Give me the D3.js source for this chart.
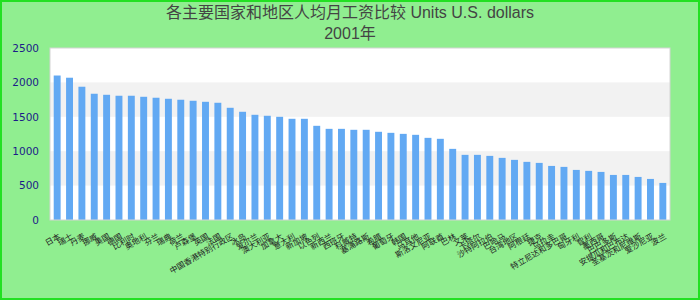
<!DOCTYPE html>
<html>
<head>
<meta charset="utf-8">
<script src="https://cdn.jsdelivr.net/npm/d3@7"></script>
<style>
  body { margin: 0; }
  svg { display: block; }
</style>
</head>
<body>
<div class="chart"></div>
<script>
const titleLine1 = "各主要国家和地区人均月工资比较 Units U.S. dollars";
const titleLine2 = "2001年";

const countries = [
  "日本", "瑞士", "丹麦", "挪威", "美国", "德国", "比利时", "奥地利", "芬兰", "瑞典",
  "荷兰", "卢森堡", "英国", "法国", "中国香港特别行政区", "冰岛", "爱尔兰", "澳大利亚", "加拿大", "意大利",
  "新加坡", "以色列", "新西兰", "西班牙", "科威特", "塞浦路斯", "希腊", "葡萄牙", "韩国", "马耳他",
  "斯洛文尼亚", "阿联酋", "巴林", "文莱", "卡塔尔", "沙特阿拉伯", "巴哈马", "台湾地区", "阿根廷", "捷克",
  "乌拉圭", "特立尼达和多巴哥", "匈牙利", "智利", "墨西哥", "巴巴多斯", "安提瓜和巴布达", "圣基茨和尼维斯", "爱沙尼亚", "波兰"
];

const values = [
  2100, 2068, 1937, 1835, 1820, 1806, 1806, 1791, 1777, 1762,
  1748, 1733, 1718, 1704, 1631, 1573, 1529, 1515, 1500, 1471,
  1471, 1369, 1325, 1325, 1311, 1311, 1282, 1267, 1252, 1238,
  1194, 1180, 1034, 947, 947, 932, 903, 874, 845, 830,
  786, 772, 728, 714, 699, 655, 655, 626, 597, 539
];

const yTicks = [0, 500, 1000, 1500, 2000, 2500];

const data = countries.map((c, i) => ({ country: c, value: values[i] }));

const W = 700, H = 300;
const margin = { top: 48, right: 30, bottom: 80, left: 50 };
const width = W - margin.left - margin.right;
const height = H - margin.top - margin.bottom;

const root = d3.select(".chart").append("svg")
  .attr("width", W)
  .attr("height", H);

// background + frame
root.append("rect")
  .attr("x", 1).attr("y", 1)
  .attr("width", W - 2).attr("height", H - 2)
  .attr("fill", "#90ee90")
  .attr("stroke", "#22e022")
  .attr("stroke-width", 2);

// title
root.append("text")
  .attr("x", W / 2).attr("y", 18)
  .attr("text-anchor", "middle")
  .attr("font-family", "'Liberation Sans', 'Noto Sans CJK SC', sans-serif")
  .attr("font-size", 16)
  .attr("fill", "#444")
  .text(titleLine1);

root.append("text")
  .attr("x", W / 2).attr("y", 39)
  .attr("text-anchor", "middle")
  .attr("font-family", "'Liberation Sans', 'Noto Sans CJK SC', sans-serif")
  .attr("font-size", 16)
  .attr("fill", "#444")
  .text(titleLine2);

const svg = root.append("g")
  .attr("transform", "translate(" + margin.left + "," + margin.top + ")");

let x = d3.scaleBand()
  .domain(countries)
  .range([0, width])
  .paddingInner(0.44)
  .paddingOuter(0.3);

let y = d3.scaleLinear().domain([0, 2500]).range([height, 0]);

// plot area with alternating bands
svg.append("rect")
  .attr("width", width).attr("height", height)
  .attr("fill", "#fff");

svg.selectAll(".band")
  .data([500, 1500])
  .enter()
  .append("rect")
  .attr("class", "band")
  .attr("x", 0)
  .attr("y", d => y(d + 500))
  .attr("width", width)
  .attr("height", d => y(d) - y(d + 500))
  .attr("fill", "#f2f2f2");

svg.selectAll(".bar")
  .data(data)
  .enter()
  .append("rect")
  .attr("class", "bar")
  .attr("x", d => x(d.country))
  .attr("y", d => y(d.value))
  .attr("width", x.bandwidth())
  .attr("height", d => height - y(d.value))
  .attr("fill", "#62a9f3");

svg.append("rect")
  .attr("width", width).attr("height", height)
  .attr("fill", "none")
  .attr("stroke", "#d4d4d4")
  .attr("stroke-width", 1);

// y axis
const yAxis = d3.axisLeft(y)
  .tickValues(yTicks)
  .tickFormat(d3.format("d"))
  .tickSize(0)
  .tickPadding(11);
const yAxisGroup = svg.append("g").attr("class", "axis y-axis").call(yAxis);
yAxisGroup.select(".domain").remove();
yAxisGroup.selectAll("text")
  .attr("font-family", "'DejaVu Sans', sans-serif")
  .attr("font-size", 10.5)
  .attr("fill", "#1c1c88");

// x axis
const xAxis = d3.axisBottom(x).tickSize(0).tickPadding(0);
const xAxisGroup = svg.append("g")
  .attr("class", "axis x-axis")
  .attr("transform", "translate(0," + height + ")")
  .call(xAxis);
xAxisGroup.select(".domain").remove();
xAxisGroup.selectAll("text")
  .attr("font-family", "'Noto Sans CJK SC', sans-serif")
  .attr("font-size", 8)
  .attr("fill", "#222")
  .attr("text-anchor", "end")
  .attr("dy", null)
  .attr("y", 0)
  .attr("transform", "translate(4,18) rotate(-30)");
</script>
</body>
</html>
